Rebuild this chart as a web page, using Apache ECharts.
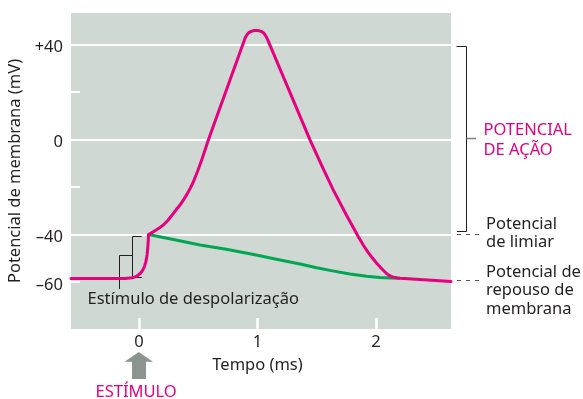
<!DOCTYPE html>
<html><head><meta charset="utf-8">
<script src="https://cdn.jsdelivr.net/npm/echarts@6/dist/echarts.min.js"></script>
<style>html,body{margin:0;padding:0;background:#fff}#c{width:583px;height:399px}</style>
</head><body><div id="c"></div>
<script>
// ---- data ----
const timeRange = [-0.574, 2.633];          // ms
const voltageRange = [-79.75, 53.2];        // mV
const xTickValues = [0, 1, 2];
const yTickValues = [40, 20, 0, -20, -40, -60];
const yLabelValues = [40, 0, -40, -60];
const gridLevels = [40, 0, -40];
const actionPotential = [
  [-0.574,-58.5],[-0.118,-58.5],[-0.059,-58.2],[-0.025,-57.7],[-0.008,-57.1],[0.012,-56.3],[0.030,-55.1],[0.045,-53.6],
  [0.058,-51.4],[0.068,-48.6],[0.074,-45.5],[0.078,-42.5],[0.080,-40],[0.105,-39.3],[0.135,-38.4],[0.170,-37.3],[0.205,-36.0],
  [0.243,-34.1],[0.278,-31.9],[0.313,-29.6],[0.346,-27.6],[0.378,-25.2],[0.405,-23.0],[0.433,-20.5],[0.458,-17.9],
  [0.495,-13.3],[0.529,-8.6],[0.560,-4.0],[0.585,-0.2],[0.895,42.6],
  [0.905,43.6],[0.918,44.5],[0.935,45.2],[0.955,45.6],[0.975,45.8],[0.996,45.8],[1.015,45.7],[1.035,45.4],
  [1.052,44.8],[1.066,43.8],[1.077,42.9],[1.089,41.6],
  [1.443,-0.2],[1.55,-11.9],[1.64,-21.3],[1.75,-31.8],[1.851,-40.9],[1.895,-44.6],[1.932,-47.4],[1.970,-49.9],
  [2.006,-52.1],[2.035,-53.7],[2.059,-54.9],[2.083,-56.1],[2.104,-57.0],[2.128,-57.6],[2.152,-58.0],[2.180,-58.3],
  [2.203,-58.4],[2.371,-58.9],[2.633,-59.8]
];
const subthreshold = [
  [0.080,-40],[0.300,-42.2],[0.515,-44.4],[0.736,-46.2],[0.989,-48.6],[1.180,-50.6],[1.359,-52.4],
  [1.500,-54.0],[1.633,-55.3],[1.780,-56.6],[1.921,-57.6],[2.030,-58.1],[2.118,-58.3],[2.203,-58.4]
];
const yAxisTitle = 'Potencial de membrana (mV)';
const xAxisTitle = 'Tempo (ms)';

// ---- style ----
const FONT = 'Noto Sans';
const INK = '#231f20';
const MAGENTA = '#e6007e';
const GREEN = '#00a651';
const FS = 16.5;

function fmtY(v){
  const s = v > 0 ? '+' + v : (v < 0 ? '\u2013' + Math.abs(v) : '0');
  return '{l|' + s + '}';
}

const gridLineMarks = gridLevels.map(v => ({ yAxis: v }));

const chart = echarts.init(document.getElementById('c'), null, {renderer:'canvas'});
chart.setOption({
  animation: false,
  grid: { left: 71, top: 13, width: 380, height: 316, show: true, backgroundColor: '#cfd8d3', borderWidth: 0, outerBoundsMode: 'none' },
  xAxis: {
    type: 'value', min: timeRange[0], max: timeRange[1],
    axisLine: { show: false, onZero: false },
    axisTick: { show: true, inside: true, length: 11, customValues: xTickValues, lineStyle: { color: '#fff', width: 2.5 } },
    axisLabel: { customValues: xTickValues, margin: 5, fontSize: FS, fontFamily: FONT, color: INK },
    splitLine: { show: false }
  },
  yAxis: {
    type: 'value', min: voltageRange[0], max: voltageRange[1],
    name: yAxisTitle, nameLocation: 'middle', nameGap: 42,
    nameTextStyle: { fontSize: FS, fontFamily: FONT, color: INK },
    axisLine: { show: false, onZero: false },
    axisTick: { show: true, inside: true, length: 9, customValues: yTickValues, lineStyle: { color: '#fff', width: 2 } },
    axisLabel: { customValues: yLabelValues, formatter: fmtY, margin: 8, fontSize: FS, fontFamily: FONT, color: INK,
      rich: { l: { fontSize: FS, fontFamily: FONT, color: INK, padding: [6, 0, 0, 0] } } },
    splitLine: { show: false }
  },
  series: [
    {
      type: 'line', data: subthreshold, showSymbol: false, symbol: 'none', z: 2,
      smooth: false,
      lineStyle: { color: GREEN, width: 3, join: 'round' },
      markLine: {
        silent: true, symbol: 'none', z: 1, label: { show: false },
        lineStyle: { color: '#fff', width: 2, type: 'solid' },
        data: gridLineMarks
      }
    },
    {
      type: 'line', data: actionPotential, showSymbol: false, symbol: 'none', z: 3,
      smooth: false,
      lineStyle: { color: MAGENTA, width: 3, cap: 'round', join: 'round' }
    }
  ]
});

const tx = chart.convertToPixel({gridIndex:0}, [xTickValues[1], 0])[0];
const t = (text, x, y, opts) => Object.assign({ type: 'text', x: x, y: y, silent: true,
  style: Object.assign({ text: text, fontFamily: FONT, fontSize: FS, fill: INK, verticalAlign: 'middle', align: 'left' }, opts || {}) });
const pl = (pts, stroke, w, dash) => ({ type: 'polyline', silent: true, shape: { points: pts },
  style: { stroke: stroke, lineWidth: w, fill: null, lineDash: dash || null } });

chart.setOption({
  graphic: [
    t(xAxisTitle, tx, 365, { align: 'center' }),
    // stimulus bracket
    pl([[141.7,236.5],[132.5,236.5],[132.5,277.5],[141.7,277.5]], INK, 1),
    pl([[132.5,255.5],[119.5,255.5],[119.5,289]], INK, 1),
    t('Estímulo de despolarização', 87.5, 299),
    // arrow
    { type: 'polygon', silent: true, shape: { points: [[138.8,352],[153,361.7],[146,361.7],[146,379],[132,379],[132,361.7],[124.5,361.7]] }, style: { fill: '#8c9490' } },
    t('ESTÍMULO', 95.5, 392.5, { fill: MAGENTA }),
    // right bracket
    pl([[456.5,46.5],[466.5,46.5],[466.5,231.5],[457,231.5]], INK, 1),
    pl([[466.5,138.5],[476,138.5]], '#7f7f7f', 1.5),
    pl([[457,234.5],[482,234.5]], '#555', 1, [4,5]),
    pl([[457,280.5],[482,280.5]], '#555', 1, [4,5]),
    t('POTENCIAL', 483.5, 130.5, { fill: MAGENTA }),
    t('DE AÇÃO', 483.5, 150.5, { fill: MAGENTA }),
    t('Potencial', 486, 224),
    t('de limiar', 486, 242),
    t('Potencial de', 486, 272),
    t('repouso de', 486, 290.5),
    t('membrana', 486, 309)
  ]
});
</script>
</body></html>
